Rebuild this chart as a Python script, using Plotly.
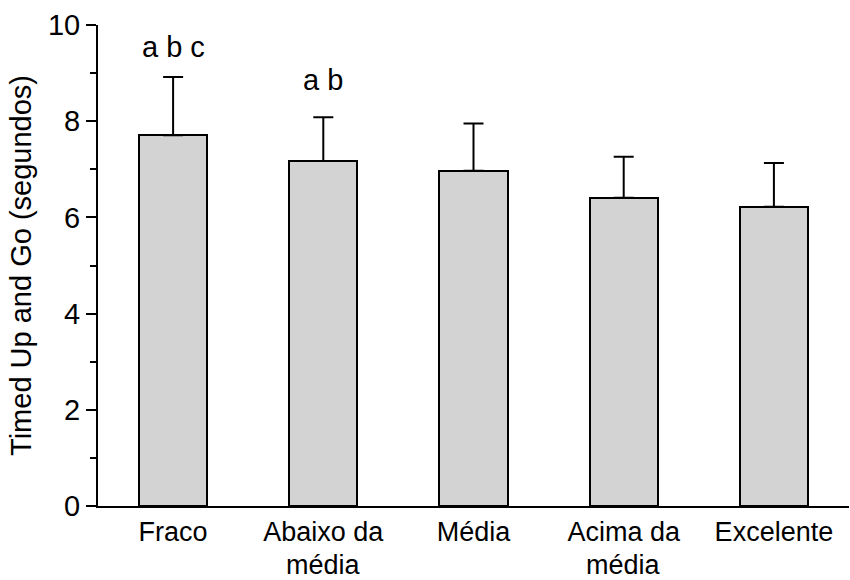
import plotly.graph_objects as go

# Timed Up and Go mean times (seconds) by fitness classification
categories = ["Fraco", "Abaixo da", "Média", "Acima da", "Excelente"]
category_line2 = ["", "média", "", "média", ""]
mean_time = [7.71, 7.17, 6.97, 6.41, 6.22]
sd_time = [1.21, 0.91, 0.98, 0.85, 0.91]

# Significance letters placed above selected groups
sig_labels = ["a b c", "a b"]
sig_index = [0, 1]
sig_y = [9.55, 8.86]

font_family = "Liberation Sans, Arial, sans-serif"
fs = 29
fs_x = 27

fig = go.Figure()
fig.add_trace(go.Bar(
    x=list(range(len(categories))),
    y=mean_time,
    width=0.453,
    marker=dict(color="#d3d3d3", line=dict(color="black", width=2)),
    error_y=dict(type="data", array=sd_time, arrayminus=[0] * len(sd_time),
                 symmetric=False, color="black", thickness=2, width=10),
    showlegend=False,
))

for lab, i, yv in zip(sig_labels, sig_index, sig_y):
    fig.add_annotation(x=i, y=yv, text=lab, showarrow=False,
                       font=dict(family=font_family, size=fs, color="black"),
                       xanchor="center", yanchor="middle")

# second line of the wrapped category names, set a little tighter than <br>
for i, lab in enumerate(category_line2):
    if lab:
        fig.add_annotation(x=i, xref="x", y=0, yref="paper", yshift=-59,
                           text=lab, showarrow=False, height=28, valign="middle",
                           font=dict(family=font_family, size=fs_x, color="black"),
                           xanchor="center", yanchor="middle")

fig.update_layout(
    width=850, height=580,
    margin=dict(l=98, r=1, t=25, b=74),
    plot_bgcolor="white", paper_bgcolor="white",
    font=dict(family=font_family, size=fs, color="black"),
    bargap=0,
)
fig.update_xaxes(
    range=[-0.5, 4.5], automargin=False,
    tickmode="array", tickvals=list(range(len(categories))), ticktext=categories,
    showline=True, linecolor="black", linewidth=2,
    ticks="", showgrid=False, zeroline=False,
    ticklabelstandoff=1,
    tickfont=dict(size=fs_x),
)
fig.update_yaxes(
    range=[0, 10], automargin=False,
    tickvals=[0, 2, 4, 6, 8, 10],
    showline=True, linecolor="black", linewidth=2,
    ticks="outside", ticklen=10, tickwidth=2, tickcolor="black",
    minor=dict(tickvals=[1, 3, 5, 7, 9], ticks="outside", ticklen=6,
               tickwidth=2, tickcolor="black"),
    showgrid=False, zeroline=False,
    title=dict(text="Timed Up and Go (segundos)", font=dict(size=fs), standoff=8),
    tickfont=dict(size=fs),
)

fig.write_html("out.html")
